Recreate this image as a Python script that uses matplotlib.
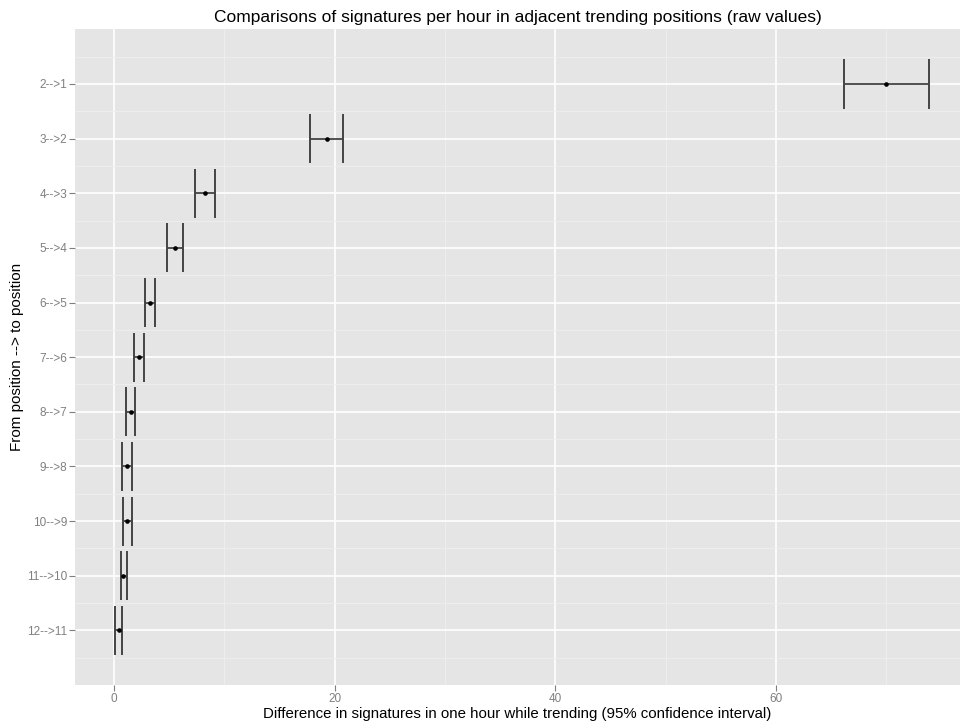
import numpy as np
import matplotlib.pyplot as plt
from matplotlib.ticker import MultipleLocator, FixedLocator

plt.rcParams['font.family'] = ['Liberation Sans', 'DejaVu Sans']

labels = ['2-->1', '3-->2', '4-->3', '5-->4', '6-->5', '7-->6',
          '8-->7', '9-->8', '10-->9', '11-->10', '12-->11']
mid = [69.96, 19.3, 8.29, 5.57, 3.26, 2.27, 1.54, 1.18, 1.21, 0.85, 0.43]
low = [66.2, 17.8, 7.34, 4.84, 2.78, 1.81, 1.06, 0.73, 0.85, 0.61, 0.13]
high = [73.9, 20.8, 9.19, 6.23, 3.75, 2.72, 1.94, 1.67, 1.63, 1.15, 0.73]

n = len(labels)
ypos = np.arange(n, 0, -1)  # first label at top

fig = plt.figure(figsize=(9.6, 7.22), dpi=100)
ax = fig.add_axes([0.078, 0.0512, 0.922, 0.9082])
ax.set_facecolor('#e5e5e5')

# error bars: horizontal line + tall caps
ax.hlines(ypos, low, high, color='#222222', lw=1.1, zorder=3)
cap = 0.45
ax.vlines(low, ypos - cap, ypos + cap, color='#444444', lw=1.4, zorder=3)
ax.vlines(high, ypos - cap, ypos + cap, color='#444444', lw=1.4, zorder=3)
ax.scatter(mid, ypos, s=11, color='black', marker='o', zorder=4, linewidths=0)

ax.set_xlim(-3.55, 76.7)
ax.set_ylim(0, n + 1)

ax.xaxis.set_major_locator(MultipleLocator(20))
ax.xaxis.set_minor_locator(MultipleLocator(10))
ax.yaxis.set_major_locator(FixedLocator(ypos))
ax.yaxis.set_minor_locator(FixedLocator(np.arange(0.5, n + 1, 1.0)))
ax.set_yticklabels(labels)

ax.grid(which='major', color='white', lw=1.2)
ax.grid(which='minor', color='#efefef', lw=0.6)
ax.set_axisbelow(True)
for s in ax.spines.values():
    s.set_visible(False)

ax.tick_params(which='major', length=4, width=0.8, color='#7f7f7f',
               labelcolor='#808080', labelsize=8.5, pad=1.5)
ax.tick_params(which='minor', length=0)

ax.set_title('Comparisons of signatures per hour in adjacent trending positions (raw values)',
             fontsize=12.5, pad=5)
ax.set_xlabel('Difference in signatures in one hour while trending (95% confidence interval)',
              fontsize=10.8, labelpad=2)
ax.set_ylabel('From position --> to position', fontsize=11, labelpad=2)

fig.savefig('out.png', dpi=100)
